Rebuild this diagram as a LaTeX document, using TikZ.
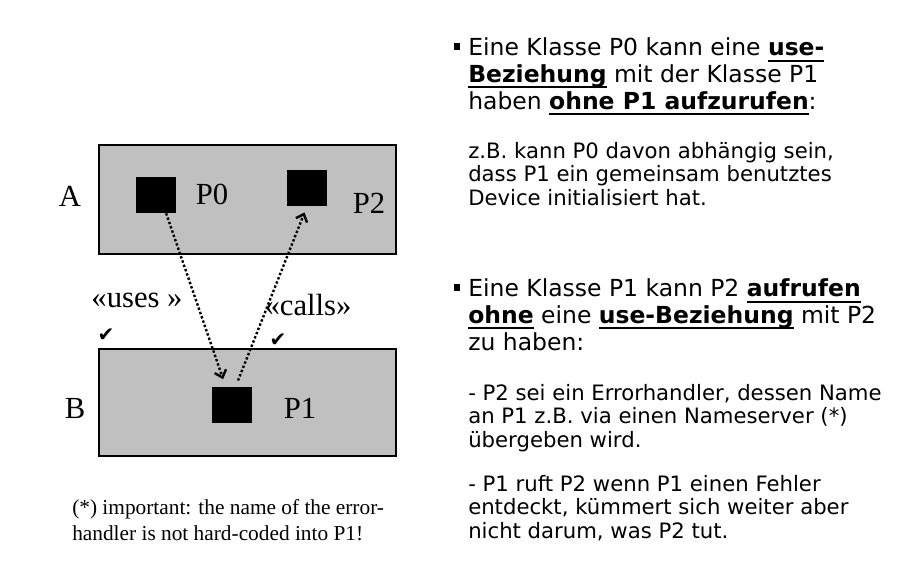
\documentclass[tikz,border=0pt]{standalone}
\usepackage{fontspec}
\setmainfont{Liberation Serif}
\newfontfamily\verd{DejaVu Sans}
\usetikzlibrary{arrows.meta}
\definecolor{boxgray}{HTML}{C0C0C0}
\newsavebox\ulbox
% bold + underline, fixed depth under the baseline
\newcommand\ulb[1]{\sbox\ulbox{\bfseries #1}\rlap{\vrule height -2.8pt depth 4.3pt width \wd\ulbox}\usebox\ulbox}
\newcommand\blt{\llap{\raisebox{4.6pt}{\rule{5pt}{5pt}}\hspace{6pt}}}
\begin{document}
\begin{tikzpicture}[x=0.75pt, y=-0.75pt,
    cls/.style={draw, line width=1.6pt, fill=boxgray, anchor=north west, minimum width=222.75pt, inner sep=0pt},
    proc/.style={fill=black, minimum width=30pt, minimum height=27pt, inner sep=0pt},
    lbl/.style={anchor=base, font=\fontsize{23}{26}\selectfont, inner sep=0pt},
    chk/.style={font=\verd\fontsize{15}{17}\selectfont, inner sep=0pt},
    txt/.style={anchor=base west, align=left, inner sep=0pt, font=\verd\fontsize{17.6}{19.9}\selectfont},
    sub/.style={txt, font=\verd\fontsize{15.9}{17.6}\selectfont},
    arrow/.style={-{Straight Barb[length=5pt,width=9pt]}, line width=1.8pt, dash pattern=on 1.8pt off 1.6pt}
]
    \useasboundingbox (0,0) rectangle (901,576);

    % classes A and B
    \node[cls, minimum height=81.75pt] (boxa) at (98,144) {};
    \node[cls, minimum height=80.25pt] (boxb) at (98,348) {};
    \node[lbl] (la) at (70,206) {A};
    \node[lbl] (lb) at (75,418) {B};

    \node[proc] (p0) at (156,195) {};
    \node[proc] (p2) at (307,188) {};
    \node[proc] (p1) at (232,405) {};
    \node[lbl] (lp0) at (212,204) {P0};
    \node[lbl] (lp2) at (369,213) {P2};
    \node[lbl] (lp1) at (300,418) {P1};

    \draw[arrow, shorten >=6pt] (p0.-61) -- (p1.109);
    \draw[arrow, shorten <=5pt, shorten >=5pt] (p1.79) -- (p2.south);

    \node[lbl] (uses) at (137,307) {«uses »};
    \node[lbl] (calls) at (308,315) {«calls»};
    \node[chk] (chk1) at (106,335) {✔};
    \node[chk] (chk2) at (278,340) {✔};

    \node[anchor=base west, align=left, inner sep=0pt, font=\fontsize{16}{19.5}\selectfont] (note) at (72,540)
        {(*) important: the name of the error-\\handler is not hard-coded into P1!};

    % right hand text (base = last line)
    \node[txt] (t1) at (468,109)
        {\blt Eine Klasse P0 kann eine \ulb{use-}\\\ulb{Beziehung} mit der Klasse P1\\haben \ulb{ohne P1 aufzurufen}:};
    \node[sub] (t2) at (468,205)
        {z.B. kann P0 davon abhängig sein,\\dass P1 ein gemeinsam benutztes\\Device initialisiert hat.};
    \node[txt] (t3) at (468,350)
        {\blt Eine Klasse P1 kann P2 \ulb{aufrufen}\\\ulb{ohne} eine \ulb{use-Beziehung} mit P2\\zu haben:};
    \node[sub] (t4) at (468,447)
        {- P2 sei ein Errorhandler, dessen Name\\an P1 z.B. via einen Nameserver (*)\\übergeben wird.};
    \node[sub] (t5) at (468,538)
        {- P1 ruft P2 wenn P1 einen Fehler\\entdeckt, kümmert sich weiter aber\\nicht darum, was P2 tut.};
\end{tikzpicture}
\end{document}
